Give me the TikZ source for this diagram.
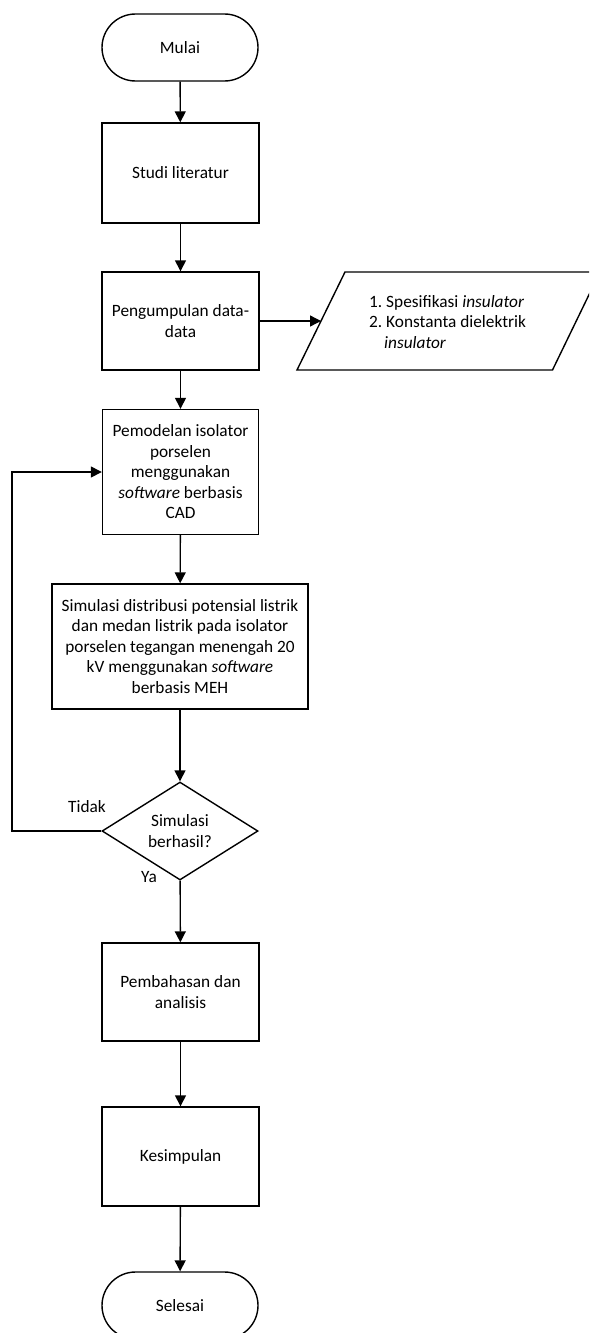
\documentclass[tikz,border=0pt]{standalone}
\usepackage{fontspec}
\setmainfont{Carlito}
\usetikzlibrary{arrows.meta,shapes.geometric}
\begin{document}
\begin{tikzpicture}[x=1pt,y=-1pt,
  every node/.style={font=\fontsize{17.3}{20.5}\selectfont},
  stepbox/.style={draw, line width=1.4pt, rectangle, align=center, inner sep=0pt},
  term/.style={draw, line width=1.4pt, rectangle, rounded corners=33.5pt, minimum width=156pt, minimum height=67pt, inner sep=0pt},
  decbox/.style={draw, line width=1.4pt, diamond, aspect=1.59, minimum width=156pt, minimum height=98pt, inner sep=0pt, align=center},
  flow/.style={line width=1.4pt, -{Triangle[length=11pt,width=11pt]}},
  lbl/.style={inner sep=0pt},
]
\useasboundingbox (0,0) rectangle (589,1333);
\clip (0,0) rectangle (589,1333);
\fill[white] (0,0) rectangle (589,1333);

\node[term] (mulai) at (180,47.5) {Mulai};
\node[stepbox, minimum width=157pt, minimum height=100pt] (studi) at (180.5,173) {Studi literatur};
\node[stepbox, minimum width=157pt, minimum height=98pt] (data) at (180.5,321) {Pengumpulan data-\\data};
\node[stepbox, minimum width=156pt, minimum height=125pt] (model) at (180.5,472) {Pemodelan isolator\\porselen\\menggunakan\\\textit{software} berbasis\\CAD};
\node[stepbox, minimum width=256pt, minimum height=125pt] (sim) at (180,646.5) {Simulasi distribusi potensial listrik\\dan medan listrik pada isolator\\porselen tegangan menengah 20\\kV menggunakan \textit{software}\\berbasis MEH};
\node[decbox] (dec) at (180,831) {Simulasi\\berhasil?};
\node[stepbox, minimum width=157pt, minimum height=98pt] (bahas) at (180.5,992) {Pembahasan dan\\analisis};
\node[stepbox, minimum width=157pt, minimum height=99pt] (simpul) at (180.5,1156.5) {Kesimpulan};
\node[term] (selesai) at (180,1305.5) {Selesai};

% input/output parallelogram
\draw[line width=1.4pt] (345,272) -- (600,272) -- (552.5,370) -- (297,370) -- cycle;
\node[lbl, anchor=west, align=left] (spec) at (369,322) {1.~Spesifikasi \textit{insulator}\\2.~Konstanta dielektrik\\\hspace*{15pt}\textit{insulator}};
\coordinate (pin) at (321,321);

\node[lbl] (tidak) at (87,807) {Tidak};
\node[lbl] (ya) at (149,877) {Ya};
\coordinate (fb) at (12,831);

\draw[flow] (mulai) -- (studi);
\draw[flow] (studi) -- (data);
\draw[flow] (data.east) -- (pin);
\draw[flow] (data) -- (model);
\draw[flow] (model) -- (sim);
\draw[flow] (sim) -- (dec);
\draw[flow] (dec) -- (bahas);
\draw[flow] (bahas) -- (simpul);
\draw[flow] (simpul) -- (selesai);
\draw[flow] (dec.west) -- (fb) |- (model.west);
\end{tikzpicture}
\end{document}
